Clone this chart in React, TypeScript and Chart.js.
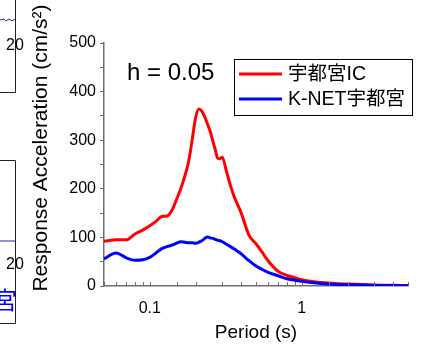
import React, { useEffect, useRef } from "react";
import { Chart, registerables } from "chart.js";

Chart.register(...registerables);

// ---- data ----
const periods = [
  0.05, 0.06, 0.07, 0.08, 0.09, 0.1, 0.11, 0.12, 0.13, 0.14, 0.15, 0.16, 0.17, 0.18, 0.19,
  0.2, 0.21, 0.22, 0.23, 0.24, 0.25, 0.26, 0.27, 0.28, 0.29, 0.3, 0.32, 0.34, 0.36, 0.38,
  0.4, 0.45, 0.5, 0.55, 0.6, 0.7, 0.8, 0.9, 1.0, 1.2, 1.5, 2, 3, 4, 5,
];
const utsunomiyaIC = [
  92, 95, 95, 107, 115, 124, 133, 143, 144, 156, 178, 200, 226, 255, 300,
  345, 364, 360, 348, 333, 318, 298, 280, 263, 262, 265, 235, 206, 183, 166,
  150, 104, 87, 69, 52, 30, 22, 17, 13, 9, 6, 4, 2, 1.5, 1,
];
const knetUtsunomiya = [
  56, 68, 58, 53, 54, 59, 68, 77, 81, 84, 88, 91, 90, 89, 89,
  88, 90, 93, 98, 101, 99, 98, 96, 94, 93, 91, 86, 81, 76, 71,
  66, 52, 41, 34, 28, 21, 15, 12, 9.5, 6.5, 4, 2.5, 1, 0.8, 0.5,
];
const seriesLabels = ["宇都宮IC", "K-NET宇都宮"];
const seriesColors = ["#ff0000", "#0000ff"];
const xMin = 0.05;
const xMax = 5;
const yMin = 0;
const yMax = 500;
const yStep = 50;
const yLabelStep = 100;
const xLabelValues = [0.1, 1];
const dampingText = "h = 0.05";
const xTitle = "Period (s)";
const yTitle = "Response Acceleration (cm/s²)";
// fragments of neighbouring panels cut into the left edge
const fragmentTickLabels = ["20", "20"];
const fragmentText = "宮";

const FONT = "'Liberation Sans', Arial, 'Noto Sans CJK JP', sans-serif";
const AXIS = "#6e6e6e";

const decorPlugin = {
  id: "decor",
  afterDraw(chart: any) {
    const ctx = chart.ctx as CanvasRenderingContext2D;
    const xs = chart.scales.x;
    const area = chart.chartArea;
    ctx.save();

    // inward x ticks
    ctx.strokeStyle = AXIS;
    ctx.lineWidth = 1;
    for (const t of xs.ticks) {
      const px = Math.round(xs.getPixelForValue(t.value)) + 0.5;
      ctx.beginPath();
      ctx.moveTo(px, area.bottom);
      ctx.lineTo(px, area.bottom - 4);
      ctx.stroke();
    }

    // damping annotation
    ctx.fillStyle = "#000";
    ctx.font = `24px ${FONT}`;
    ctx.textBaseline = "middle";
    ctx.textAlign = "left";
    ctx.fillText(dampingText, 127, 73);

    // legend
    const lx = 234.5, ly = 59.5, lw = 178, lh = 56;
    ctx.fillStyle = "#fff";
    ctx.fillRect(lx, ly, lw, lh);
    ctx.strokeStyle = "#000";
    ctx.lineWidth = 1;
    ctx.strokeRect(lx, ly, lw, lh);
    ctx.font = `19.5px ${FONT}`;
    chart.data.datasets.forEach((ds: any, i: number) => {
      const yy = 74 + i * 25;
      ctx.strokeStyle = ds.borderColor;
      ctx.lineWidth = 3;
      ctx.beginPath();
      ctx.moveTo(239, yy);
      ctx.lineTo(282, yy);
      ctx.stroke();
      ctx.fillStyle = "#000";
      ctx.fillText(ds.label, 288, yy + 1);
    });

    // axis titles
    ctx.fillStyle = "#000";
    ctx.font = `19px ${FONT}`;
    ctx.textAlign = "center";
    ctx.fillText(xTitle, (area.left + area.right) / 2, 333);
    ctx.save();
    ctx.translate(41, 148);
    ctx.rotate(-Math.PI / 2);
    ctx.font = `21px ${FONT}`;
    ctx.fillText(yTitle, 0, 0);
    ctx.restore();

    // left-edge fragments of neighbouring panels
    ctx.strokeStyle = "#222";
    ctx.lineWidth = 1;
    ctx.beginPath();
    ctx.moveTo(15.5, 0);
    ctx.lineTo(15.5, 92.5);
    ctx.lineTo(0, 92.5);
    ctx.moveTo(0, 160.5);
    ctx.lineTo(15.5, 160.5);
    ctx.lineTo(15.5, 323.5);
    ctx.lineTo(0, 323.5);
    ctx.stroke();
    ctx.strokeStyle = "#1a2a9a";
    ctx.lineWidth = 1;
    ctx.beginPath();
    ctx.moveTo(0, 20);
    ctx.lineTo(4, 19);
    ctx.lineTo(6, 21);
    ctx.lineTo(9, 19);
    ctx.lineTo(12, 21);
    ctx.lineTo(15, 19);
    ctx.moveTo(0, 241);
    ctx.lineTo(15, 241);
    ctx.stroke();
    ctx.fillStyle = "#000";
    ctx.font = `16px ${FONT}`;
    ctx.textAlign = "left";
    ctx.fillText(fragmentTickLabels[0], 6, 46);
    ctx.fillText(fragmentTickLabels[1], 6, 265);
    ctx.fillStyle = "#0000ff";
    ctx.font = `24px 'Noto Sans CJK JP', sans-serif`;
    ctx.textAlign = "right";
    ctx.fillText(fragmentText, 17, 300);

    ctx.restore();
  },
};

export default function App() {
  const ref = useRef<HTMLCanvasElement | null>(null);
  useEffect(() => {
    if (!ref.current) return;
    const chart = new Chart(ref.current, {
      type: "line",
      data: {
        datasets: [
          {
            label: seriesLabels[0],
            data: periods.map((p, i) => ({ x: p, y: utsunomiyaIC[i] })),
            borderColor: seriesColors[0],
            borderWidth: 3,
            pointRadius: 0,
            cubicInterpolationMode: "monotone",
            order: 1,
          },
          {
            label: seriesLabels[1],
            data: periods.map((p, i) => ({ x: p, y: knetUtsunomiya[i] })),
            borderColor: seriesColors[1],
            borderWidth: 3,
            pointRadius: 0,
            cubicInterpolationMode: "monotone",
            order: 0,
          },
        ],
      },
      options: {
        responsive: false,
        animation: false,
        layout: { padding: { left: 0, top: 43, right: 13, bottom: 0 } },
        plugins: { legend: { display: false }, tooltip: { enabled: false } },
        scales: {
          x: {
            type: "logarithmic",
            min: xMin,
            max: xMax,
            grid: { display: false, drawTicks: false },
            border: { display: true, color: AXIS, width: 1.5 },
            afterFit: (s: any) => { s.height = 59; },
            ticks: {
              autoSkip: false,
              maxRotation: 0,
              padding: 13,
              color: "#000",
              font: { family: FONT, size: 16 },
              callback: (v: any) => {
                const n = Number(v);
                const hit = xLabelValues.find((l) => Math.abs(l - n) < 1e-9);
                return hit !== undefined ? String(hit) : "";
              },
            },
          },
          y: {
            min: yMin,
            max: yMax,
            grid: { display: true, drawOnChartArea: false, drawTicks: true, tickLength: 4, color: AXIS },
            border: { display: true, color: AXIS, width: 1.5 },
            afterFit: (s: any) => { s.width = 104; },
            ticks: {
              stepSize: yStep,
              padding: 4,
              color: "#000",
              font: { family: FONT, size: 16 },
              callback: (v: any) => (Number(v) % yLabelStep === 0 ? String(v) : ""),
            },
          },
        },
      },
      plugins: [decorPlugin],
    } as any);
    return () => chart.destroy();
  }, []);
  return (
    <div style={{ position: "absolute", left: 0, top: 0, width: 421, height: 345, background: "#fff" }}>
      <canvas ref={ref} width={421} height={345} style={{ display: "block" }} />
    </div>
  );
}
